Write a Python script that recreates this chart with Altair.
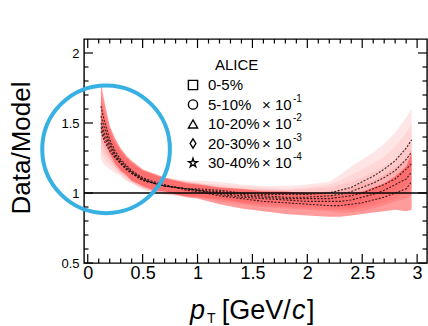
import altair as alt
import pandas as pd

# ---------------- data ----------------
pT = [0.12, 0.15, 0.20, 0.25, 0.30, 0.35, 0.40, 0.50, 0.60, 0.70, 0.80, 0.90, 1.00,
      1.20, 1.40, 1.60, 1.80, 2.00, 2.20, 2.30, 2.40, 2.50, 2.60, 2.70, 2.80, 2.90, 2.95]

classes = ["0-5%", "5-10%", "10-20%", "20-30%", "30-40%"]

c1 = [1.62, 1.52, 1.38, 1.30, 1.24, 1.20, 1.16, 1.11, 1.08, 1.06, 1.04, 1.02, 1.01,
      0.98, 0.96, 0.94, 0.93, 0.92, 0.91, 0.91, 0.92, 0.93, 0.95, 0.97, 1.00, 1.03, 1.08]
c2 = [1.55, 1.47, 1.36, 1.28, 1.23, 1.19, 1.15, 1.10, 1.07, 1.05, 1.04, 1.03, 1.02,
      0.99, 0.97, 0.96, 0.95, 0.94, 0.94, 0.94, 0.95, 0.97, 0.99, 1.02, 1.06, 1.10, 1.15]
c3 = [1.50, 1.43, 1.34, 1.27, 1.22, 1.18, 1.15, 1.10, 1.07, 1.05, 1.04, 1.03, 1.02,
      1.00, 0.98, 0.97, 0.96, 0.96, 0.96, 0.97, 0.98, 1.00, 1.03, 1.06, 1.10, 1.17, 1.21]
c4 = [1.47, 1.40, 1.32, 1.26, 1.21, 1.17, 1.14, 1.09, 1.07, 1.05, 1.04, 1.03, 1.02,
      1.01, 0.99, 0.98, 0.97, 0.97, 0.98, 0.99, 1.01, 1.04, 1.07, 1.11, 1.16, 1.24, 1.29]
c5 = [1.44, 1.37, 1.30, 1.25, 1.21, 1.17, 1.14, 1.09, 1.07, 1.05, 1.04, 1.03, 1.03,
      1.02, 1.00, 0.99, 0.99, 0.99, 1.00, 1.02, 1.04, 1.08, 1.12, 1.17, 1.23, 1.32, 1.38]

hw1 = [0.17, 0.14, 0.10, 0.09, 0.08, 0.07, 0.07, 0.06, 0.06, 0.05, 0.05, 0.05, 0.05,
       0.06, 0.07, 0.07, 0.08, 0.08, 0.08, 0.08, 0.08, 0.08, 0.09, 0.10, 0.12, 0.16, 0.20]
hw2 = [0.18, 0.15, 0.11, 0.09, 0.08, 0.07, 0.07, 0.06, 0.06, 0.05, 0.05, 0.05, 0.05,
       0.05, 0.05, 0.06, 0.06, 0.06, 0.07, 0.08, 0.09, 0.10, 0.10, 0.11, 0.12, 0.14, 0.16]
hw3 = [0.18, 0.15, 0.11, 0.09, 0.08, 0.07, 0.07, 0.06, 0.06, 0.05, 0.05, 0.05, 0.05,
       0.05, 0.05, 0.06, 0.06, 0.07, 0.08, 0.09, 0.10, 0.11, 0.12, 0.13, 0.14, 0.16, 0.18]
hw4 = [0.19, 0.16, 0.12, 0.10, 0.09, 0.08, 0.07, 0.07, 0.06, 0.06, 0.06, 0.05, 0.05,
       0.05, 0.06, 0.06, 0.06, 0.07, 0.08, 0.10, 0.12, 0.13, 0.14, 0.15, 0.17, 0.19, 0.20]
hw5 = [0.20, 0.17, 0.13, 0.11, 0.08, 0.08, 0.07, 0.06, 0.07, 0.06, 0.06, 0.06, 0.06,
       0.06, 0.06, 0.06, 0.06, 0.07, 0.08, 0.11, 0.15, 0.16, 0.17, 0.18, 0.20, 0.22, 0.22]

centers = [c1, c2, c3, c4, c5]
halfwidths = [hw1, hw2, hw3, hw4, hw5]
band_colors = ["#ff1010", "#ff5a5a", "#ff8888", "#ffaaaa", "#ffc8c8"]
band_opacity = [0.42, 0.2, 0.2, 0.25, 0.45]

legend_labels = ["0-5%", "5-10%", "10-20%", "20-30%", "30-40%"]
legend_factor = ["", "\u00d7 10", "\u00d7 10", "\u00d7 10", "\u00d7 10"]
legend_exp = ["", "-1", "-2", "-3", "-4"]
legend_shapes = ["square", "circle", "triangle-up",
                 "M0,-1L0.62,0L0,1L-0.62,0Z",
                 "M0,-1L0.2245,-0.309L0.951,-0.309L0.363,0.118L0.588,0.809L0,0.382L-0.588,0.809L-0.363,0.118L-0.951,-0.309L-0.2245,-0.309Z"]
legend_rows_px = [46, 65.5, 85, 104.5, 124]

x_major = [0, 0.5, 1, 1.5, 2, 2.5, 3]
x_minor = [round(0.1 * i, 1) for i in range(1, 31) if i % 5 != 0]
y_major = [0.5, 1, 1.5, 2]
y_minor = [round(0.5 + 0.1 * i, 1) for i in range(1, 16) if i % 5 != 0]

circle_pT = [0.167]
circle_val = [1.312]

# ---------------- layout ----------------
W, H = 343, 224
FONT = "Liberation Sans"

xscale = alt.Scale(domain=[-0.034, 3.09], nice=False, zero=False)
yscale = alt.Scale(domain=[0.5, 2.1], nice=False, zero=False)
xaxis = alt.Axis(values=x_major, format="~g", ticks=False, domain=False, grid=False,
                 labelFont=FONT, labelFontSize=18, labelPadding=1, labelColor="black",
                 labelFlush=False, labelOverlap=False, title=None)
yaxis = alt.Axis(values=y_major, format="~g", ticks=False, domain=False, grid=False,
                 labelFont=FONT, labelFontSize=13, labelPadding=5, labelColor="black",
                 labelFlush=False, labelOverlap=False, title=None)


def X(f):
    return alt.X(f, type="quantitative", scale=xscale, axis=xaxis, title=None)


def Y(f):
    return alt.Y(f, type="quantitative", scale=yscale, axis=yaxis, title=None)


layers = []

# bands (lightest first, red on top)
for i in reversed(range(5)):
    df = pd.DataFrame({"pT": pT,
                       "lo": [c - h for c, h in zip(centers[i], halfwidths[i])],
                       "hi": [c + h for c, h in zip(centers[i], halfwidths[i])]})
    layers.append(
        alt.Chart(df).mark_area(color=band_colors[i], opacity=band_opacity[i])
        .encode(x=X("pT"), y=Y("lo"), y2=alt.Y2("hi"))
    )

# unity line
layers.append(
    alt.Chart(pd.DataFrame({"val": [1.0]})).mark_rule(color="black", strokeWidth=1.3)
    .encode(y=Y("val"))
)

# central curves
for i in range(5):
    df = pd.DataFrame({"pT": pT, "val": centers[i]})
    layers.append(
        alt.Chart(df).mark_line(color="#111111", strokeWidth=1.1, strokeDash=[2, 1.5], opacity=0.85)
        .encode(x=X("pT"), y=Y("val"))
    )

# inward ticks (ROOT style) on all four sides
def yticks(vals, length):
    d = pd.DataFrame({"val": vals})
    left = alt.Chart(d).mark_rule(color="black", strokeWidth=1.2).encode(
        y=Y("val"), x=alt.value(0), x2=alt.value(length))
    right = alt.Chart(d).mark_rule(color="black", strokeWidth=1.2).encode(
        y=Y("val"), x=alt.value(W), x2=alt.value(W - length))
    return [left, right]


def xticks(vals, length):
    d = pd.DataFrame({"pT": vals})
    bottom = alt.Chart(d).mark_rule(color="black", strokeWidth=1.2).encode(
        x=X("pT"), y=alt.value(H), y2=alt.value(H - length))
    top = alt.Chart(d).mark_rule(color="black", strokeWidth=1.2).encode(
        x=X("pT"), y=alt.value(0), y2=alt.value(length))
    return [bottom, top]


layers += yticks(y_major, 9) + yticks(y_minor, 4.5) + xticks(x_major, 9) + xticks(x_minor, 4.5)

# legend
leg = pd.DataFrame({"label": legend_labels, "factor": legend_factor, "exp": legend_exp,
                    "shape": legend_shapes, "py": legend_rows_px})
leg["pye"] = [p - 6 for p in legend_rows_px]
layers.append(
    alt.Chart(leg).mark_point(filled=False, color="black", strokeWidth=1.4, size=85, opacity=1)
    .encode(x=alt.value(109), y=alt.Y("py:Q", scale=None, axis=None),
            shape=alt.Shape("shape:N", scale=None, legend=None))
)
layers.append(
    alt.Chart(leg).mark_text(align="left", baseline="middle", font=FONT, fontSize=15, color="black")
    .encode(x=alt.value(124), y=alt.Y("py:Q", scale=None, axis=None), text="label:N")
)
layers.append(
    alt.Chart(leg).mark_text(align="left", baseline="middle", font=FONT, fontSize=15, color="black")
    .encode(x=alt.value(178), y=alt.Y("py:Q", scale=None, axis=None), text="factor:N")
)
layers.append(
    alt.Chart(leg).mark_text(align="left", baseline="middle", font=FONT, fontSize=10, color="black")
    .encode(x=alt.value(209), y=alt.Y("pye:Q", scale=None, axis=None), text="exp:N")
)
layers.append(
    alt.Chart(pd.DataFrame({"t": ["ALICE"]})).mark_text(align="left", baseline="middle", font=FONT,
                                                        fontSize=15, color="black")
    .encode(x=alt.value(131), y=alt.value(26), text="t:N")
)

# axis titles (as text marks to allow italic / subscript)
title_df = pd.DataFrame({"t": ["Data/Model"]})
layers.append(
    alt.Chart(title_df).mark_text(align="center", baseline="alphabetic", angle=270, font=FONT,
                                  fontSize=26, color="black")
    .encode(x=alt.value(-54), y=alt.value(109), text="t:N")
)
xt_parts = [("p", 106, 280, 27, "italic"), ("T", 123, 284, 14, "normal"),
            ("[GeV/", 137.7, 280, 27, "normal"), ("c", 208, 280, 27, "italic"),
            ("]", 223, 280, 27, "normal")]
for txt, px, py, fs, st in xt_parts:
    layers.append(
        alt.Chart(pd.DataFrame({"t": [txt]})).mark_text(align="left", baseline="alphabetic",
                                                        font=FONT, fontSize=fs, fontStyle=st,
                                                        color="black")
        .encode(x=alt.value(px), y=alt.value(py), text="t:N")
    )

# highlight circle
layers.append(
    alt.Chart(pd.DataFrame({"pT": circle_pT, "val": circle_val}))
    .mark_point(shape="circle", filled=False, size=16300, stroke="#37b0e3", strokeWidth=4, opacity=1)
    .encode(x=X("pT"), y=Y("val"))
)

chart = alt.layer(*layers).properties(
    width=W, height=H,
    autosize=alt.AutoSizeParams(type="none"),
    padding={"left": 84, "top": 39, "right": 1, "bottom": 63},
    background="white",
).configure_view(stroke="black", strokeWidth=1.4)

chart.save("out.html", embed_options={"renderer": "svg", "actions": False})
